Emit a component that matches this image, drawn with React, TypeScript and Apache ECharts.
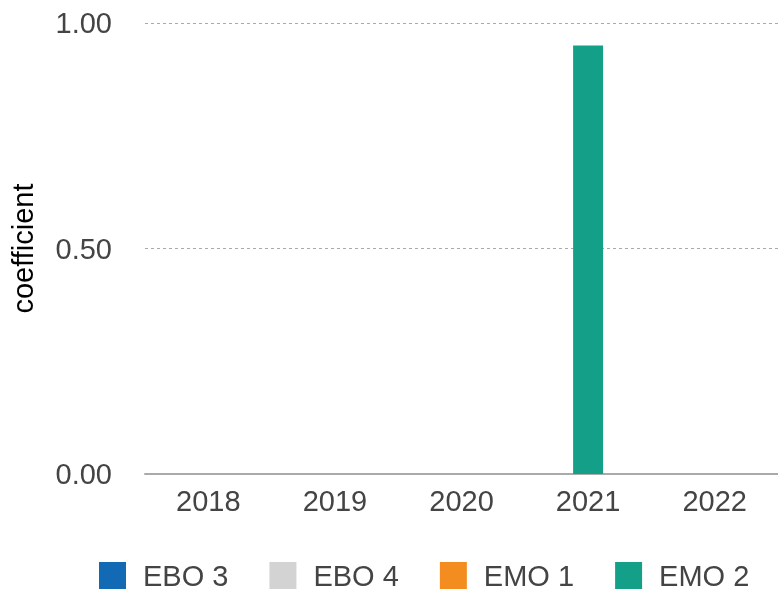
import React, { useEffect, useRef } from "react";
import * as echarts from "echarts";

const categories = ["2018", "2019", "2020", "2021", "2022"];
const seriesNames = ["EBO 3", "EBO 4", "EMO 1", "EMO 2"];
const ebo3 = [0, 0, 0, 0, 0];
const ebo4 = [0, 0, 0, 0, 0];
const emo1 = [0, 0, 0, 0, 0];
const emo2 = [0, 0, 0, 0.95, 0];
const colors = ["#136ab4", "#d3d3d3", "#f38d20", "#14a088"];
const yTicks = { min: 0, max: 1, interval: 0.5 };

export default function App() {
  const ref = useRef<HTMLDivElement>(null);
  useEffect(() => {
    if (!ref.current) return;
    const chart = echarts.init(ref.current, null, { renderer: "svg" });
    const values = [ebo3, ebo4, emo1, emo2];
    chart.setOption({
      animation: false,
      color: colors,
      textStyle: { fontFamily: "Liberation Sans, Arial, sans-serif" },
      grid: { left: 138, right: 0, top: 23, bottom: 117 },
      legend: {
        left: 99,
        bottom: 1,
        padding: 0,
        itemWidth: 27,
        itemHeight: 27,
        itemGap: 41,
        icon: "rect",
        textStyle: { fontSize: 29, color: "#444", padding: [0, 0, 0, 12] },
        data: seriesNames,
      },
      xAxis: {
        type: "category",
        data: categories,
        axisTick: { show: false },
        axisLine: { lineStyle: { color: "#aaa", width: 2 } },
        axisLabel: { fontSize: 29, color: "#444", margin: 12 },
      },
      yAxis: {
        type: "value",
        min: yTicks.min,
        max: yTicks.max,
        interval: yTicks.interval,
        name: "coefficient",
        nameLocation: "middle",
        nameGap: 108,
        nameTextStyle: { fontSize: 29, color: "#000" },
        axisLine: { show: false },
        axisTick: { show: false },
        axisLabel: {
          fontSize: 29,
          color: "#444",
          margin: 33,
          formatter: (v: number) => v.toFixed(2),
        },
        splitLine: { lineStyle: { color: "#aaa", type: [3, 3], width: 1 } },
      },
      series: seriesNames.map((name, i) => ({
        name,
        type: "bar",
        stack: "total",
        barWidth: 30,
        data: values[i],
      })),
    });
    return () => chart.dispose();
  }, []);
  return (
    <div
      ref={ref}
      style={{ position: "fixed", left: 0, top: 0, width: 778, height: 591 }}
    />
  );
}
